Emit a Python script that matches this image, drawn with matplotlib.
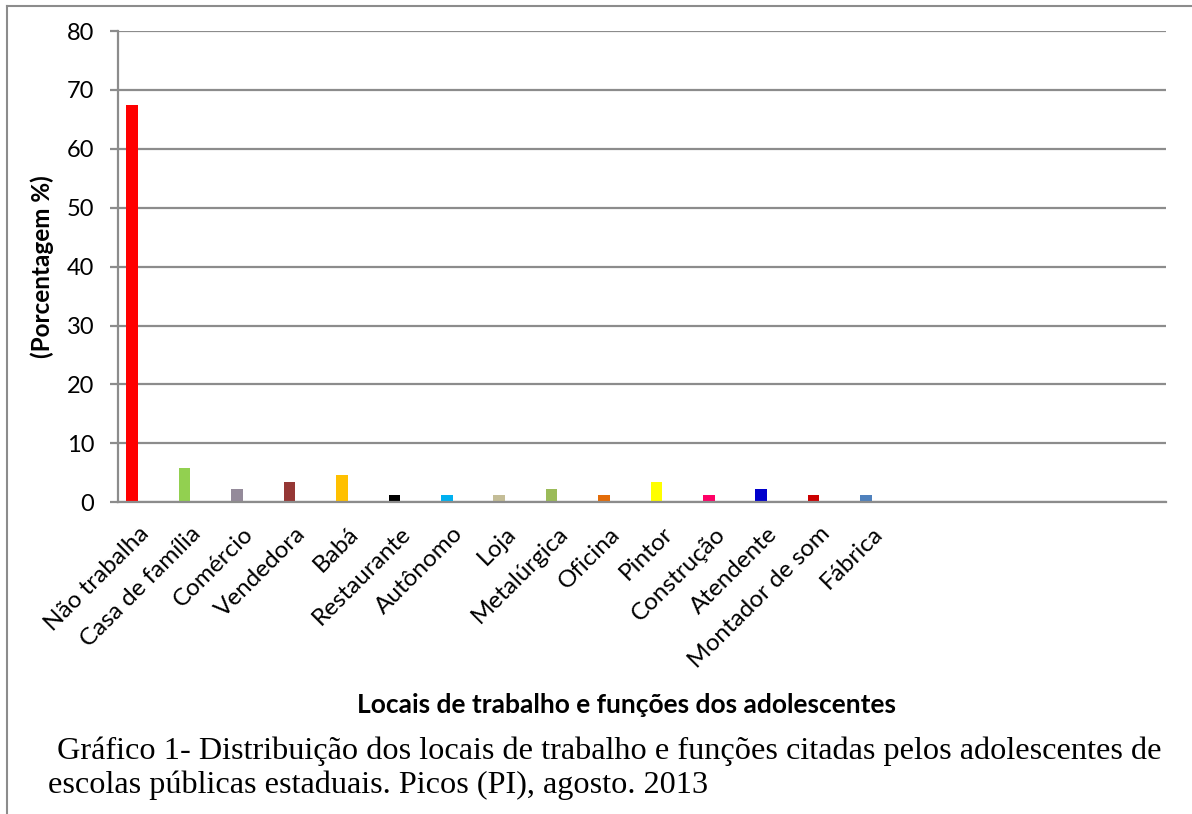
import matplotlib
matplotlib.use("Agg")
import matplotlib.pyplot as plt
from matplotlib.lines import Line2D

# Work places / roles cited by the adolescents (percent of respondents)
categories = ["Não trabalha", "Casa de família", "Comércio", "Vendedora", "Babá",
              "Restaurante", "Autônomo", "Loja", "Metalúrgica", "Oficina",
              "Pintor", "Construção", "Atendente", "Montador de som", "Fábrica"]
values = [67.4, 5.8, 2.3, 3.5, 4.7, 1.2, 1.2, 1.2, 2.3, 1.2, 3.5, 1.2, 2.3, 1.2, 1.2]
colors = ["#FF0000", "#92D050", "#948A9A", "#953735", "#FFC000", "#000000",
          "#00B0F0", "#C4BD97", "#9BBB59", "#E36C09", "#FFFF00", "#FF0066",
          "#0000CC", "#CC0000", "#4F81BD"]
n_slots = 20          # category axis keeps room for 20 slots
yticks = [0, 10, 20, 30, 40, 50, 60, 70, 80]

W, H = 1192, 814
fig = plt.figure(figsize=(W / 100, H / 100), dpi=100)
fig.patch.set_facecolor("white")

left, right, top, bottom = 117.7, 1166, 31, 502.3
ax = fig.add_axes([left / W, 1 - bottom / H, (right - left) / W, (bottom - top) / H])

grid_c = "#8C8C8C"
bar_w = 1 / 4.5
xs = [i - bar_w for i in range(len(values))]
ax.bar(xs, values, width=bar_w, color=colors, zorder=2)

ax.set_xlim(-0.5, n_slots - 0.5)
ax.set_ylim(0, 80)
ax.set_yticks(yticks)
ax.set_yticklabels([str(v) for v in yticks], fontsize=17, family="Lato")
ax.yaxis.grid(True, color=grid_c, linewidth=1.6, zorder=1)
ax.set_axisbelow(True)
ax.tick_params(axis="y", length=6, width=1.6, color=grid_c, pad=11)
ax.set_xticks([])

for s in ["top", "right"]:
    ax.spines[s].set_visible(False)
for s in ["left", "bottom"]:
    ax.spines[s].set_color(grid_c)
    ax.spines[s].set_linewidth(1.6)
ax.spines["bottom"].set_zorder(3)

# rotated category labels, anchored at slot centres
for i, name in enumerate(categories):
    ax.text(i + 0.03, -4.8, name, rotation=45, rotation_mode="anchor",
            ha="right", va="center", fontsize=17.5, family="Lato")

fig.text(42 / W, 1 - 267 / H, "(Porcentagem %)", rotation=90, ha="center",
         va="center", fontsize=17.5, fontweight="bold", family="Lato")
fig.text(627 / W, 1 - 705 / H, "Locais de trabalho e funções dos adolescentes",
         ha="center", va="center", fontsize=19, fontweight="bold", family="Lato")

fig.text(57 / W, 1 - 751 / H,
         "Gráfico 1- Distribuição dos locais de trabalho e funções citadas pelos adolescentes de",
         ha="left", va="center", fontsize=23.2, family="Liberation Serif")
fig.text(48 / W, 1 - 785 / H,
         "escolas públicas estaduais. Picos (PI), agosto. 2013",
         ha="left", va="center", fontsize=23.2, family="Liberation Serif")

# page frame (left and top edges)
fig.add_artist(Line2D([7 / W, 7 / W], [0, 1 - 6 / H], transform=fig.transFigure,
                      color="#8C8C8C", linewidth=1.5))
fig.add_artist(Line2D([7 / W, 1], [1 - 6 / H, 1 - 6 / H], transform=fig.transFigure,
                      color="#8C8C8C", linewidth=1.5))

fig.savefig("out.png", dpi=100, facecolor="white")
